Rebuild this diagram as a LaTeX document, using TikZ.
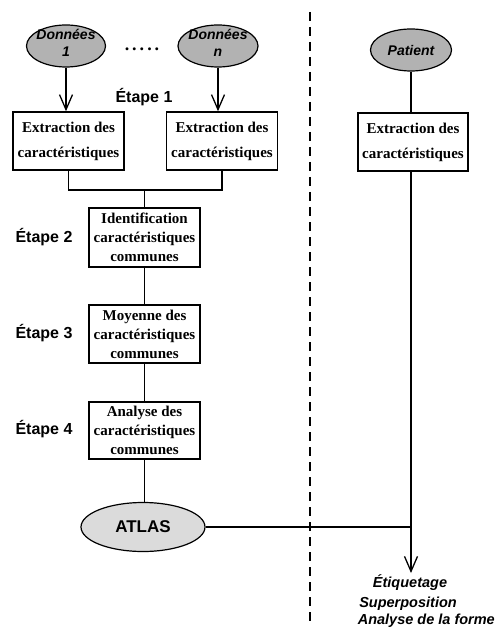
\documentclass[tikz,border=0pt]{standalone}
\usepackage{fontspec}
\setmainfont{Liberation Serif}
\setsansfont{Liberation Sans}
\usetikzlibrary{shapes.geometric,arrows.meta}
\tikzset{
  stepbox/.style={draw, line width=1.5pt, minimum width=111pt, minimum height=58pt, inner sep=0pt, align=center,
    font=\fontsize{15}{25}\selectfont\bfseries},
  stepbox3/.style={stepbox, font=\fontsize{15}{19}\selectfont\bfseries},
  darkell/.style={ellipse, draw, line width=1.2pt, fill=gray!60, minimum width=79pt, minimum height=42pt, inner sep=0pt},
  lightell/.style={ellipse, draw, line width=1.2pt, fill=gray!28, minimum width=124pt, minimum height=49pt, inner sep=0pt,
    font=\fontsize{17}{17}\selectfont\sffamily\bfseries},
  elltext/.style={align=center, font=\fontsize{14}{17}\selectfont\sffamily\bfseries\itshape},
  etape/.style={font=\fontsize{16}{16}\selectfont\sffamily\bfseries},
  conn/.style={line width=1.3pt},
  arr/.style={conn, -{Straight Barb[length=15pt,width=13pt,line width=1.3pt]}},
  outtext/.style={font=\fontsize{14.5}{14.5}\selectfont\sffamily\bfseries\itshape, inner sep=1pt},
}
\begin{document}
\begin{tikzpicture}[x=1pt,y=-1pt]
\useasboundingbox (0,0) rectangle (498,628);
% ellipses
\node[darkell] (d1) at (66,46) {};
\node[elltext] (d1t) at ([yshift=3pt]d1.center) {Données\\1};
\node[darkell, minimum width=80pt] (dn) at (218,46) {};
\node[elltext] (dnt) at ([yshift=3pt]dn.center) {Données\\n};
\node[darkell, minimum width=81pt] (pat) at (411,50) {};
\node[elltext] (patt) at (pat.center) {Patient};
\node[font=\fontsize{18}{18}\selectfont\bfseries] (dots) at (142,49) {.\,.\,.\,.\,.};
% labels
\node[etape] (e1) at (144,97) {Étape 1};
\node[etape] (e2) at (44,237) {Étape 2};
\node[etape] (e3) at (44,333) {Étape 3};
\node[etape] (e4) at (44,429) {Étape 4};
% boxes
\node[stepbox] (b1) at (68.5,141) {Extraction des\\caractéristiques};
\node[stepbox] (b2) at (222,141) {Extraction des\\caractéristiques};
\node[stepbox, minimum width=110pt] (bp) at (413,142) {Extraction des\\caractéristiques};
\node[stepbox3, minimum height=59pt] (bi) at (144.5,237.5) {Identification\\caractéristiques\\communes};
\node[stepbox3] (bm) at (144.5,334) {Moyenne des\\caractéristiques\\communes};
\node[stepbox3, minimum height=57pt] (ba) at (144.5,430.5) {Analyse des\\caractéristiques\\communes};
\node[lightell] (atlas) at (143,527) {ATLAS};
% connectors
\draw[arr] (d1.south) -- (d1.south |- b1.north);
\draw[arr] (dn.south) -- (dn.south |- b2.north);
\coordinate (m) at (144.5,190);
\draw[conn] (b1.south) |- (m) -| (b2.south);
\draw[conn] (m) -- (bi.north);
\draw[conn] (bi) -- (bm);
\draw[conn] (bm) -- (ba);
\draw[conn] (ba.south) -- (ba.south |- atlas.north);
\draw[conn] (pat.south) -- (pat.south |- bp.north);
\coordinate (j) at (411,527);
\coordinate (out) at (411,573);
\draw[conn] (pat.south |- bp.south) -- (j);
\draw[arr] (j) -- (out);
\draw[conn] (atlas.east) -- (j);
% dashed separator
\coordinate (dt) at (310,12);
\coordinate (db) at (310,626);
\draw[line width=1.8pt, dash pattern=on 9pt off 6pt] (dt) -- (db);
% output texts
\node[outtext] (o1) at (410,583) {Étiquetage};
\node[outtext] (o2) at (408,604) {Superposition};
\node[outtext, anchor=east] (o3) at (496,621) {Analyse de la forme};
\end{tikzpicture}
\end{document}
